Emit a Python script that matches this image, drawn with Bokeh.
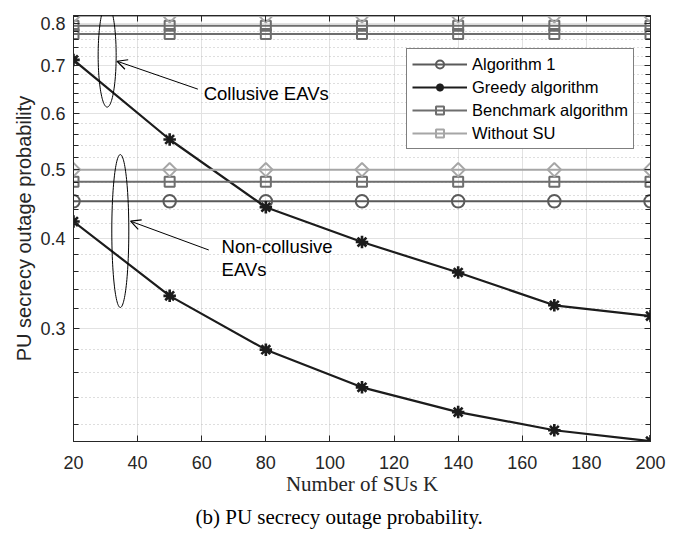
import numpy as np
from bokeh.plotting import figure
from bokeh.models import (Range1d, FixedTicker, PrintfTickFormatter, LogAxis, LinearAxis,
                          Legend, LegendItem, Arrow, OpenHead, Label, Title, PolyAnnotation)
from bokeh.embed import file_html
from bokeh.resources import INLINE

# ---------------- data ----------------
K = [20, 50, 80, 110, 140, 170, 200]
greedy_coll = [0.712, 0.551, 0.443, 0.396, 0.359, 0.323, 0.312]
greedy_noncoll = [0.423, 0.333, 0.280, 0.248, 0.229, 0.216, 0.2085]
alg1_noncoll = [0.4515, 0.4515, 0.4515, 0.4515, 0.4515, 0.4515, 0.4515]
bench_coll_a = [0.795, 0.795, 0.795, 0.795, 0.795, 0.795, 0.795]
bench_coll_b = [0.774, 0.774, 0.774, 0.774, 0.774, 0.774, 0.774]
bench_noncoll = [0.481, 0.481, 0.481, 0.481, 0.481, 0.481, 0.481]
nosu_coll = [0.8205, 0.8205, 0.8205, 0.8205, 0.8205, 0.8205, 0.8205]
nosu_noncoll = [0.5, 0.5, 0.5, 0.5, 0.5, 0.5, 0.5]

x_ticks = [20, 40, 60, 80, 100, 120, 140, 160, 180, 200]
y_ticks = [0.3, 0.4, 0.5, 0.6, 0.7, 0.8]
y_minor = [0.22, 0.24, 0.26, 0.28, 0.32, 0.34, 0.36, 0.38, 0.42, 0.44, 0.46, 0.48,
           0.52, 0.54, 0.56, 0.58, 0.62, 0.64, 0.66, 0.68, 0.72, 0.74, 0.76, 0.78, 0.82]
x_lim = (20, 200)
y_lim = (0.2083, 0.8215)

# ---------------- figure ----------------
W, H = 670, 532
ML, MR, MT, MB = 73, 20, 15, 88
p = figure(width=W, height=H, x_range=Range1d(*x_lim), y_range=Range1d(*y_lim),
           y_axis_type="log", output_backend="svg", toolbar_location=None,
           min_border_left=ML, min_border_right=MR, min_border_top=MT, min_border_bottom=MB)
p.background_fill_color = "white"
p.border_fill_color = "white"
p.outline_line_color = "#262626"
p.outline_line_width = 1

axis_col = "#262626"
tick_font = "Liberation Sans"

xt = FixedTicker(ticks=x_ticks, minor_ticks=[])
yt = FixedTicker(ticks=y_ticks, minor_ticks=y_minor)

for ax in p.xaxis:
    ax.ticker = xt
    ax.axis_label = "Number of SUs K"
    ax.axis_label_text_font = "Liberation Serif"
    ax.axis_label_text_font_size = "21px"
    ax.axis_label_text_font_style = "normal"
    ax.axis_label_text_color = "#262626"
    ax.axis_label_standoff = 0
    ax.major_label_text_font = tick_font
    ax.major_label_text_font_size = "18px"
    ax.major_label_text_color = axis_col
    ax.major_label_standoff = 14
    ax.major_tick_in = 6
    ax.major_tick_out = 0
    ax.minor_tick_in = 0
    ax.minor_tick_out = 0
    ax.axis_line_color = axis_col
    ax.major_tick_line_color = axis_col

for ax in p.yaxis:
    ax.ticker = yt
    ax.formatter = PrintfTickFormatter(format="%.1f")
    ax.axis_label = "PU secrecy outage probability"
    ax.axis_label_text_font = tick_font
    ax.axis_label_text_font_size = "20px"
    ax.axis_label_text_font_style = "normal"
    ax.axis_label_text_color = "#262626"
    ax.axis_label_standoff = 2
    ax.major_label_text_font = tick_font
    ax.major_label_text_font_size = "18px"
    ax.major_label_text_color = axis_col
    ax.major_label_standoff = 8
    ax.major_tick_in = 6
    ax.major_tick_out = 0
    ax.minor_tick_in = 5
    ax.minor_tick_out = 0
    ax.axis_line_color = axis_col
    ax.major_tick_line_color = axis_col
    ax.minor_tick_line_color = axis_col

ry = LogAxis(ticker=yt, major_label_text_font_size="1px", major_label_text_color=None,
             major_label_standoff=0,
             major_tick_in=6, major_tick_out=0, minor_tick_in=5, minor_tick_out=0,
             axis_line_color=axis_col, major_tick_line_color=axis_col,
             minor_tick_line_color=axis_col)
p.add_layout(ry, "right")
tx = LinearAxis(ticker=xt, major_label_text_font_size="1px", major_label_text_color=None,
                major_label_standoff=0,
                major_tick_in=6, major_tick_out=0, minor_tick_in=0, minor_tick_out=0,
                axis_line_color=axis_col, major_tick_line_color=axis_col)
p.add_layout(tx, "above")

# grids
p.xgrid.ticker = xt
p.xgrid.grid_line_color = "#e2e2e2"
p.xgrid.grid_line_width = 1
p.ygrid.ticker = yt
p.ygrid.grid_line_color = "#e2e2e2"
p.ygrid.grid_line_width = 1
p.ygrid.minor_grid_line_color = "#bdbdbd"
p.ygrid.minor_grid_line_dash = "1 3"
p.ygrid.minor_grid_line_width = 1

# ---------------- series ----------------
c_alg1 = "#5a5a5a"
c_greedy = "#1c1c1c"
c_bench = "#6e6e6e"
c_nosu = "#a6a6a6"

def line_marker(y, color, marker, size, lw=2.0, mlw=2.0, angle=0.0):
    lr = p.line(K, y, line_color=color, line_width=lw)
    sr = p.scatter(K, y, marker=marker, size=size, line_color=color, fill_color=None,
                   line_width=mlw, angle=angle)
    return lr, sr

a_l, a_s = line_marker(alg1_noncoll, c_alg1, "circle", 12.5)
g_l, g_s = line_marker(greedy_coll, c_greedy, "asterisk", 12.5, lw=2.2, mlw=2.6)
line_marker(greedy_noncoll, c_greedy, "asterisk", 12.5, lw=2.2, mlw=2.6)
b_l, b_s = line_marker(bench_coll_a, c_bench, "square", 10)
line_marker(bench_coll_b, c_bench, "square", 10)
line_marker(bench_noncoll, c_bench, "square", 10)
n_l, n_s = line_marker(nosu_coll, c_nosu, "square", 9.5, angle=np.pi / 4)
line_marker(nosu_noncoll, c_nosu, "square", 9.5, angle=np.pi / 4)

legend = Legend(items=[
    LegendItem(label="Algorithm 1", renderers=[a_l, a_s]),
    LegendItem(label="Greedy algorithm", renderers=[g_l, g_s]),
    LegendItem(label="Benchmark algorithm", renderers=[b_l, b_s]),
    LegendItem(label="Without SU", renderers=[n_l, n_s]),
], location=(333, 292))
legend.label_text_font = tick_font
legend.label_text_font_size = "16.5px"
legend.label_text_color = "black"
legend.label_height = 20
legend.glyph_height = 20
legend.glyph_width = 55
legend.label_standoff = 5
legend.spacing = 3
legend.padding = 5
legend.margin = 0
legend.border_line_color = "black"
legend.border_line_width = 1
legend.background_fill_color = "white"
legend.background_fill_alpha = 1
p.add_layout(legend, "center")

# ---------------- annotations ----------------
frame_w = W - ML - MR
frame_h = H - MT - MB
ppx = frame_w / (x_lim[1] - x_lim[0])
ppd = frame_h / np.log10(y_lim[1] / y_lim[0])

# ellipse: centre (K, value), semi-axes in pixels
ell_coll = (30.5, 0.7223, 9, 52)
ell_noncoll = (34.6, 0.4103, 8.5, 77)
t = np.linspace(0, 2 * np.pi, 120)
for cx, cy, a, b in (ell_coll, ell_noncoll):
    xs = cx + a * np.cos(t) / ppx
    ys = 10 ** (np.log10(cy) + b * np.sin(t) / ppd)
    p.add_layout(PolyAnnotation(xs=list(xs), ys=list(ys), fill_color=None, fill_alpha=0,
                                line_color="black", line_alpha=1.0, line_width=1))

# arrows: (start K, start value, end K, end value)
arrow_coll = (58.8, 0.648, 33.6, 0.709)
arrow_noncoll = (62.2, 0.386, 37.8, 0.4235)
for xs_, ys_, xe_, ye_ in (arrow_coll, arrow_noncoll):
    p.add_layout(Arrow(x_start=xs_, y_start=ys_, x_end=xe_, y_end=ye_, line_color="black",
                       line_width=1,
                       end=OpenHead(size=10, line_color="black", line_width=1.2)))

texts = [("Collusive EAVs", 60.6, 0.638), ("Non-collusive", 66.2, 0.390), ("EAVs", 66.2, 0.363)]
for s, x, y in texts:
    p.add_layout(Label(x=x, y=y, text=s, text_font=tick_font, text_font_size="18.5px",
                       text_color="black", text_baseline="middle", text_align="left"))

cap = Title(text="(b) PU secrecy outage probability.", align="left", offset=122,
            text_font="Liberation Serif", text_font_size="21px", text_font_style="normal",
            text_color="black", standoff=8)
p.add_layout(cap, "below")

open("out.html", "w").write(file_html(p, INLINE))
